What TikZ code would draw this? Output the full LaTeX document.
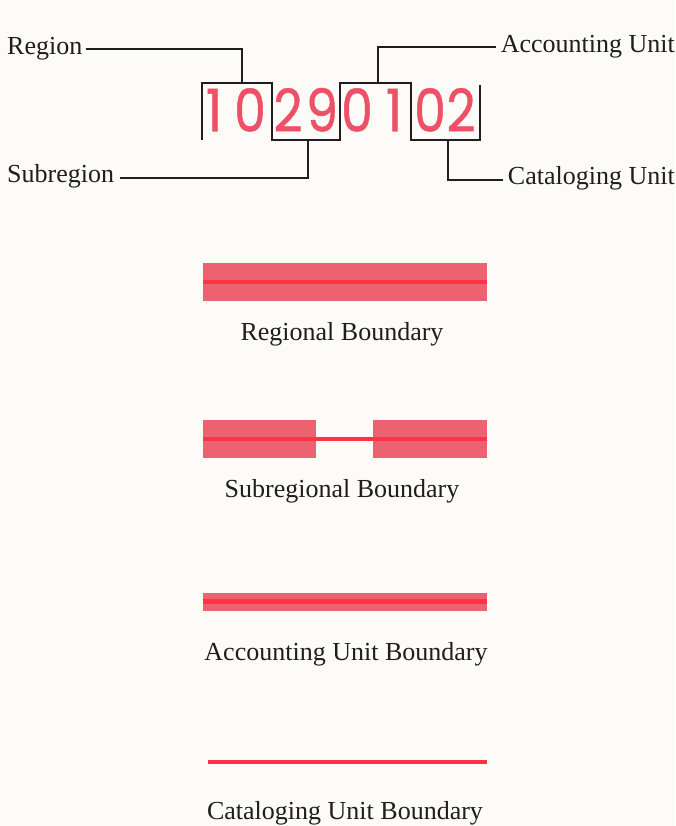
\documentclass[tikz,border=0pt]{standalone}
\usepackage{fontspec}
\setmainfont{Liberation Serif}
\newfontfamily\digitfont[FakeBold=0.8]{Poppins}
\usetikzlibrary{positioning}
\definecolor{paper}{HTML}{FCFBF7}
\definecolor{inkline}{HTML}{1E1E1E}
\definecolor{digitred}{HTML}{EE5068}
\definecolor{bandfill}{HTML}{EC6270}
\definecolor{bandline}{HTML}{FF3345}
\newcommand{\hucdigit}[1]{\scalebox{0.86}[1]{#1}}
\tikzset{
  lbl/.style    = {inner sep=0pt, text=inkline, font=\fontsize{26}{30}\selectfont},
  digit/.style  = {inner sep=0pt, anchor=base, text=digitred,
                   font=\digitfont\fontsize{59}{60}\selectfont},
  frame/.style  = {draw=inkline, line width=2pt},
  lead/.style   = {draw=inkline, line width=2pt},
  band/.style   = {rectangle, fill=bandfill, draw=none, inner sep=0pt, minimum width=284pt},
  core/.style   = {draw=bandline, line width=4.5pt},
}
\begin{document}
\begin{tikzpicture}[x=1pt, y=-1pt]
  \fill[paper] (0,0) rectangle (675,826);
  \useasboundingbox (0,0) rectangle (675,826);
  % ---- hydrologic unit code ----
  \foreach \d/\cx [count=\i] in {1/214,0/250,2/288,9/322,0/357,1/394,0/430,2/461}{
    \node[digit] (d\i) at (\cx,131.5) {\hucdigit{\d}};
  }
  \draw[frame] (202,140) |- (272,83) -- (272,140) -| (340,83) -| (411,140) -| (480,85);
  \coordinate (rgntip) at (242,83);
  \coordinate (subtip) at (308,140);
  \coordinate (acctip) at (378,83);
  \coordinate (cattip) at (448,140);
  \node[lbl, anchor=base west] (rgn) at (7,55)  {Region};
  \node[lbl, anchor=base west] (sub) at (7,183) {Subregion};
  \node[lbl, anchor=base east] (acc) at (675,53)  {Accounting Unit};
  \node[lbl, anchor=base east] (cat) at (675,185) {Cataloging Unit};
  \draw[lead] ([xshift=3pt,yshift=4pt]rgn.mid east) -| (rgntip);
  \draw[lead] ([xshift=6pt,yshift=3pt]sub.mid east) -| (subtip);
  \draw[lead] ([xshift=-5pt,yshift=4pt]acc.mid west) -| (acctip);
  \draw[lead] ([xshift=-5pt,yshift=3pt]cat.mid west) -| (cattip);
  % ---- boundary legend ----
  \node[band, minimum height=38pt] (regband) at (345,282) {};
  \draw[core] (regband.west) -- (regband.east);
  \node[lbl, anchor=base] (reglbl) at (342,340) {Regional Boundary};
  \node[band, minimum width=113pt, minimum height=38pt] (subbandl) at (259.5,439) {};
  \node[band, minimum width=114pt, minimum height=38pt] (subbandr) at (430,439) {};
  \draw[core] (subbandl.west) -- (subbandr.east);
  \node[lbl, anchor=base] (sublbl) at (342,497) {Subregional Boundary};
  \node[band, minimum height=18pt] (accband) at (345,601.5) {};
  \draw[core] (accband.west) -- (accband.east);
  \node[lbl, anchor=base] (acclbl) at (346,660) {Accounting Unit Boundary};
  \coordinate (catl) at (208,762);
  \coordinate (catr) at (487,762);
  \draw[core] (catl) -- (catr);
  \node[lbl, anchor=base] (catlbl) at (345,819) {Cataloging Unit Boundary};
\end{tikzpicture}
\end{document}
